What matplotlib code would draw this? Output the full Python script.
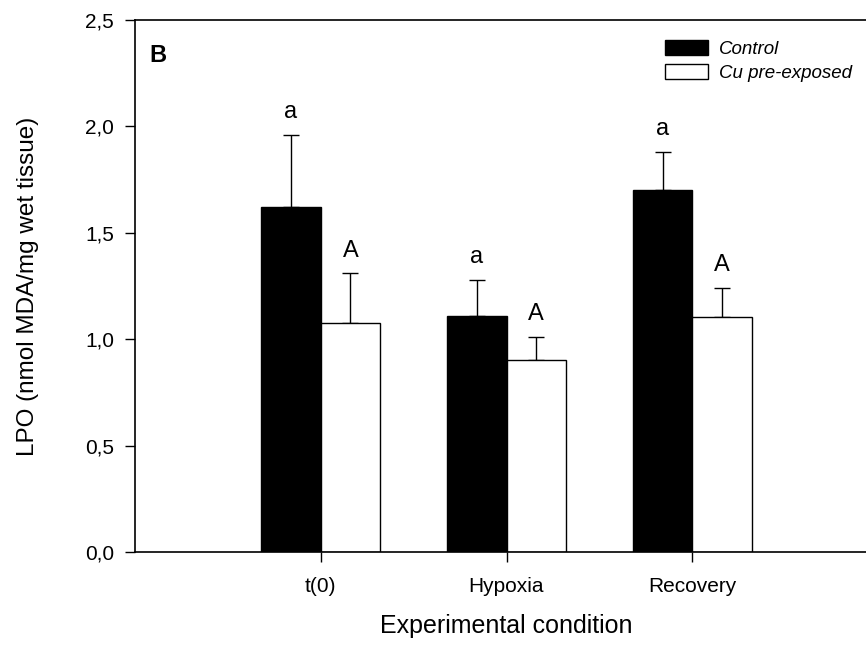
import matplotlib
matplotlib.use("Agg")
import matplotlib.pyplot as plt
from matplotlib.ticker import FuncFormatter

conditions = ["t(0)", "Hypoxia", "Recovery"]
control_mean = [1.62, 1.11, 1.70]
control_err = [0.34, 0.17, 0.18]
cu_mean = [1.075, 0.90, 1.105]
cu_err = [0.235, 0.11, 0.135]
control_letters = ["a", "a", "a"]
cu_letters = ["A", "A", "A"]

plt.rcParams["font.family"] = ["Liberation Sans", "DejaVu Sans"]

fig = plt.figure(figsize=(8.66, 6.46), dpi=100)
# axes runs past the right edge of the figure (original is cropped there)
ax = fig.add_axes([135 / 866, 1 - 552 / 646, 743 / 866, 532 / 646])

xs = [1, 2, 3]
w = 0.32
x_ctrl = [x - w / 2 for x in xs]
x_cu = [x + w / 2 for x in xs]

ax.bar(x_ctrl, control_mean, w, color="black", edgecolor="black", linewidth=1,
       label="Control", zorder=2)
ax.bar(x_cu, cu_mean, w, color="white", edgecolor="black", linewidth=1,
       label="Cu pre-exposed", zorder=2)

# upper error bars only
ax.errorbar(x_ctrl, control_mean, yerr=[[0] * 3, control_err], fmt="none",
            ecolor="black", elinewidth=1, capsize=6, capthick=1, zorder=1)
ax.errorbar(x_cu, cu_mean, yerr=[[0] * 3, cu_err], fmt="none",
            ecolor="black", elinewidth=1, capsize=6, capthick=1, zorder=1)

for x, m, e, t in zip(x_ctrl, control_mean, control_err, control_letters):
    ax.annotate(t, (x, m + e), xytext=(0, 12), textcoords="offset points",
                ha="center", va="baseline", fontsize=17)
for x, m, e, t in zip(x_cu, cu_mean, cu_err, cu_letters):
    ax.annotate(t, (x, m + e), xytext=(0, 12), textcoords="offset points",
                ha="center", va="baseline", fontsize=17)

ax.set_xlim(0, 4)
ax.set_ylim(0, 2.5)
ax.set_xticks(xs)
ax.set_xticklabels(conditions)
ax.set_yticks([0, 0.5, 1.0, 1.5, 2.0, 2.5])
ax.yaxis.set_major_formatter(FuncFormatter(lambda v, p: f"{v:.1f}".replace(".", ",")))
ax.tick_params(direction="out", length=7, width=1, labelsize=15, pad=8)
ax.tick_params(axis="x", pad=11)

ax.spines["right"].set_visible(False)
for s in ["left", "top", "bottom"]:
    ax.spines[s].set_linewidth(1.2)

ax.set_xlabel("Experimental condition", fontsize=18, labelpad=13)
ax.set_ylabel("LPO (nmol MDA/mg wet tissue)", fontsize=17.5, labelpad=33)

ax.text(0.02, 0.955, "B", transform=ax.transAxes, fontsize=17,
        fontweight="bold", va="top", ha="left")

leg = ax.legend(loc="upper left", bbox_to_anchor=(0.713, 0.962), frameon=False,
                prop={"style": "italic", "size": 13.5}, handlelength=2.3,
                handleheight=0.85, handletextpad=0.6, labelspacing=0.3,
                borderpad=0, borderaxespad=0)

fig.savefig("out.png")
